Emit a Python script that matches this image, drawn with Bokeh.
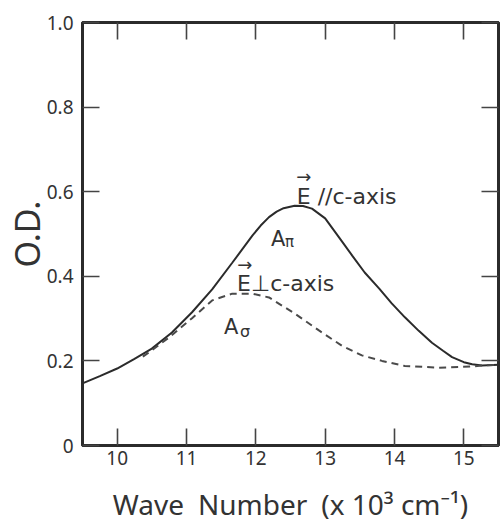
from bokeh.plotting import figure
from bokeh.models import LinearAxis, FixedTicker, Label, Range1d
from bokeh.embed import file_html
from bokeh.resources import INLINE

# ---- data ----
wave_pi = [9.5, 9.75, 10.0, 10.25, 10.5, 10.79, 11.08, 11.37, 11.66, 11.95, 12.07,
           12.19, 12.3, 12.4, 12.56, 12.68, 12.81, 13.0, 13.2, 13.39, 13.57, 13.78,
           13.96, 14.15, 14.35, 14.54, 14.7, 14.83, 15.0, 15.12, 15.26, 15.5]
od_pi = [0.147, 0.164, 0.182, 0.205, 0.229, 0.267, 0.315, 0.369, 0.432, 0.496, 0.520,
         0.540, 0.553, 0.561, 0.567, 0.566, 0.560, 0.537, 0.492, 0.449, 0.409, 0.371,
         0.336, 0.303, 0.271, 0.243, 0.224, 0.209, 0.197, 0.192, 0.189, 0.191]

wave_sigma = [10.37, 10.5, 10.76, 11.08, 11.37, 11.66, 11.95, 12.19, 12.56, 12.91,
              13.24, 13.53, 13.82, 14.15, 14.64, 15.12, 15.26, 15.5]
od_sigma = [0.210, 0.225, 0.257, 0.301, 0.343, 0.359, 0.359, 0.350, 0.312, 0.272,
            0.236, 0.213, 0.200, 0.188, 0.184, 0.187, 0.189, 0.191]

x_ticks = [10, 11, 12, 13, 14, 15]
y_ticks = [0, 0.2, 0.4, 0.6, 0.8, 1.0]
y_tick_labels = ["0", "0.2", "0.4", "0.6", "0.8", "1.0"]

FONT = "Noto Sans"
AFONT = "DejaVu Sans"
INK = "#2b2b2b"
TXT = "#333333"

p = figure(width=500, height=525, x_range=Range1d(9.5, 15.5), y_range=Range1d(0, 1.0),
           output_backend="svg", toolbar_location=None,
           min_border_left=81, min_border_right=2, min_border_top=22, min_border_bottom=80,
           x_axis_location=None, y_axis_location=None)
p.grid.visible = False
p.outline_line_color = INK
p.outline_line_width = 3

common = dict(axis_line_color=INK, axis_line_width=3, major_tick_in=17, major_tick_out=0,
              minor_tick_in=0, minor_tick_out=0, major_tick_line_color="#444444",
              major_tick_line_width=1.6)

xb = LinearAxis(ticker=FixedTicker(ticks=x_ticks), major_label_text_font=FONT,
                major_label_text_font_size="19px", major_label_text_color=TXT,
                major_label_standoff=5,
                axis_label="Wave\u2002Number\u2002(x 10\u00b3 cm\u207b\u00b9)",
                axis_label_text_font=FONT, axis_label_text_font_size="28px",
                axis_label_text_font_style="normal", axis_label_text_color=TXT,
                axis_label_standoff=17, **common)
p.add_layout(xb, "below")

xt = LinearAxis(ticker=FixedTicker(ticks=x_ticks), major_label_standoff=0,
                major_label_overrides={t: "" for t in x_ticks}, **common)
p.add_layout(xt, "above")

yl = LinearAxis(ticker=FixedTicker(ticks=y_ticks), major_label_text_font=FONT,
                major_label_text_font_size="19px", major_label_text_color=TXT,
                major_label_standoff=9,
                major_label_overrides={t: s for t, s in zip(y_ticks, y_tick_labels)},
                axis_label="O.D.", axis_label_text_font=FONT, axis_label_text_font_size="34px",
                axis_label_text_font_style="normal", axis_label_text_color=TXT,
                axis_label_standoff=-6, **common)
p.add_layout(yl, "left")

yr = LinearAxis(ticker=FixedTicker(ticks=y_ticks), major_label_standoff=0,
                major_label_overrides={t: "" for t in y_ticks}, **common)
p.add_layout(yr, "right")

# curves
p.line(wave_pi, od_pi, line_color=INK, line_width=2)
p.line(wave_sigma, od_sigma, line_color="#4a4a4a", line_width=2, line_dash="7 5")


def lab(x, y, text, size, align="left", baseline="alphabetic"):
    p.add_layout(Label(x=x, y=y, text=text, text_font=AFONT, text_font_size=size,
                       text_align=align, text_baseline=baseline, text_color=TXT))


lab(12.59, 0.589, "E //c-axis", "22px")
lab(12.69, 0.636, "\u2192", "18px", align="center", baseline="middle")
lab(12.22, 0.489, "A", "21px")
lab(12.42, 0.482, "\u03c0", "15px")
lab(11.73, 0.383, "E\u22a5c-axis", "22px")
lab(11.84, 0.429, "\u2192", "18px", align="center", baseline="middle")
lab(11.54, 0.279, "A", "21px")
lab(11.77, 0.270, "\u03c3", "16px")

open("out.html", "w").write(file_html(p, INLINE))
